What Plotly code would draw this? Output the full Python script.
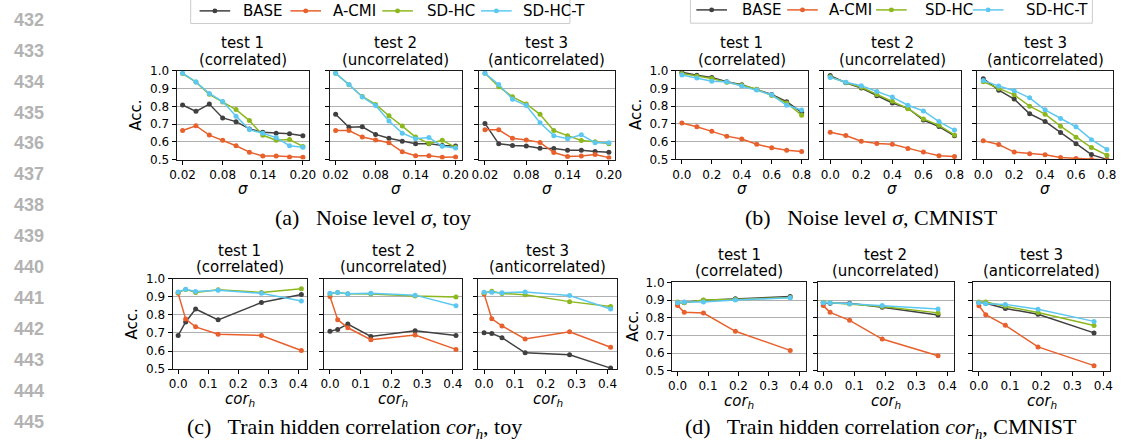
import plotly.graph_objects as go

W, H = 1127, 448

methods = ["BASE", "A-CMI", "SD-HC", "SD-HC-T"]
colors = ["#404040", "#e8602c", "#8cb81e", "#5cc8f2"]

# x values
sigma_toy = [0.02, 0.04, 0.06, 0.08, 0.10, 0.12, 0.14, 0.16, 0.18, 0.20]
sigma_cmnist = [0.0, 0.1, 0.2, 0.3, 0.4, 0.5, 0.6, 0.7, 0.8]
corh_toy = [0.0, 0.025, 0.058, 0.133, 0.277, 0.41]
corh_cmnist = [0.0, 0.022, 0.085, 0.19, 0.37]

# (a) noise level, toy
a1_base = [0.808, 0.772, 0.813, 0.735, 0.714, 0.673, 0.654, 0.649, 0.645, 0.634]
a1_acmi = [0.664, 0.691, 0.638, 0.609, 0.578, 0.542, 0.520, 0.520, 0.515, 0.513]
a1_sdhc = [0.985, 0.937, 0.868, 0.825, 0.782, 0.720, 0.637, 0.609, 0.613, 0.574]
a1_sdhct = [0.987, 0.938, 0.873, 0.827, 0.745, 0.669, 0.648, 0.624, 0.578, 0.569]

a2_base = [0.756, 0.682, 0.685, 0.642, 0.620, 0.604, 0.590, 0.590, 0.580, 0.576]
a2_acmi = [0.664, 0.664, 0.627, 0.611, 0.595, 0.544, 0.522, 0.522, 0.513, 0.515]
a2_sdhc = [0.987, 0.922, 0.856, 0.811, 0.747, 0.689, 0.627, 0.591, 0.609, 0.569]
a2_sdhct = [0.987, 0.924, 0.853, 0.805, 0.718, 0.649, 0.618, 0.624, 0.575, 0.565]

a3_base = [0.704, 0.589, 0.580, 0.577, 0.564, 0.562, 0.553, 0.553, 0.546, 0.542]
a3_acmi = [0.668, 0.668, 0.620, 0.611, 0.597, 0.540, 0.518, 0.520, 0.529, 0.511]
a3_sdhc = [0.987, 0.911, 0.854, 0.814, 0.755, 0.664, 0.635, 0.608, 0.600, 0.589]
a3_sdhct = [0.987, 0.923, 0.841, 0.805, 0.708, 0.635, 0.617, 0.640, 0.595, 0.595]

# (b) noise level, CMNIST
b1_base = [0.991, 0.974, 0.962, 0.938, 0.920, 0.894, 0.866, 0.825, 0.765]
b1_acmi = [0.705, 0.684, 0.658, 0.631, 0.615, 0.585, 0.565, 0.551, 0.545]
b1_sdhc = [0.984, 0.969, 0.956, 0.934, 0.918, 0.895, 0.860, 0.818, 0.749]
b1_sdhct = [0.976, 0.958, 0.940, 0.937, 0.914, 0.891, 0.864, 0.805, 0.778]

b2_base = [0.972, 0.932, 0.902, 0.858, 0.818, 0.788, 0.722, 0.685, 0.633]
b2_acmi = [0.653, 0.635, 0.602, 0.589, 0.585, 0.561, 0.541, 0.521, 0.516]
b2_sdhc = [0.965, 0.933, 0.906, 0.866, 0.828, 0.786, 0.728, 0.692, 0.638]
b2_sdhct = [0.962, 0.935, 0.915, 0.882, 0.851, 0.805, 0.773, 0.713, 0.665]

b3_base = [0.955, 0.890, 0.840, 0.757, 0.714, 0.651, 0.588, 0.527, 0.500]
b3_acmi = [0.605, 0.584, 0.541, 0.532, 0.526, 0.510, 0.505, 0.500, 0.497]
b3_sdhc = [0.937, 0.900, 0.864, 0.800, 0.755, 0.687, 0.625, 0.567, 0.524]
b3_sdhct = [0.945, 0.913, 0.887, 0.847, 0.779, 0.731, 0.684, 0.611, 0.556]

# (c) train hidden correlation, toy
c1_base = [0.686, 0.761, 0.833, 0.773, 0.869, 0.913]
c1_acmi = [0.920, 0.777, 0.734, 0.693, 0.686, 0.603]
c1_sdhc = [0.925, 0.942, 0.925, 0.940, 0.925, 0.946]
c1_sdhct = [0.928, 0.943, 0.930, 0.937, 0.920, 0.878]

c2_base = [0.710, 0.720, 0.750, 0.681, 0.712, 0.686]
c2_acmi = [0.903, 0.774, 0.729, 0.663, 0.689, 0.609]
c2_sdhc = [0.918, 0.925, 0.918, 0.917, 0.905, 0.900]
c2_sdhct = [0.920, 0.925, 0.918, 0.920, 0.910, 0.851]

c3_base = [0.701, 0.697, 0.674, 0.590, 0.579, 0.505]
c3_acmi = [0.917, 0.779, 0.739, 0.667, 0.707, 0.621]
c3_sdhc = [0.923, 0.932, 0.919, 0.912, 0.874, 0.847]
c3_sdhct = [0.926, 0.926, 0.923, 0.928, 0.908, 0.833]

# (d) train hidden correlation, CMNIST
d1_base = [0.885, 0.887, 0.900, 0.908, 0.920]
d1_acmi = [0.869, 0.832, 0.827, 0.724, 0.616]
d1_sdhc = [0.890, 0.885, 0.901, 0.904, 0.915]
d1_sdhct = [0.885, 0.889, 0.890, 0.901, 0.913]

d2_base = [0.885, 0.882, 0.882, 0.860, 0.816]
d2_acmi = [0.869, 0.831, 0.786, 0.680, 0.586]
d2_sdhc = [0.888, 0.885, 0.878, 0.864, 0.828]
d2_sdhct = [0.885, 0.885, 0.880, 0.870, 0.850]

d3_base = [0.885, 0.882, 0.853, 0.820, 0.715]
d3_acmi = [0.868, 0.818, 0.758, 0.636, 0.530]
d3_sdhc = [0.890, 0.890, 0.865, 0.830, 0.757]
d3_sdhct = [0.885, 0.880, 0.876, 0.849, 0.780]

y_ticks = [0.5, 0.6, 0.7, 0.8, 0.9, 1.0]
y_ticktext = ["0.5", "0.6", "0.7", "0.8", "0.9", "1.0"]
toy_sigma_ticks = [0.02, 0.08, 0.14, 0.20]
toy_sigma_ticktext = ["0.02", "0.08", "0.14", "0.20"]
cm_sigma_ticks = [0.0, 0.2, 0.4, 0.6, 0.8]
cm_sigma_ticktext = ["0.0", "0.2", "0.4", "0.6", "0.8"]
cor_ticks = [0.0, 0.1, 0.2, 0.3, 0.4]
cor_ticktext = ["0.0", "0.1", "0.2", "0.3", "0.4"]

panel_titles = ["(correlated)", "(uncorrelated)", "(anticorrelated)"]
captions = [
    "(a)\u2002 Noise level <i>\u03c3</i>, toy",
    "(b)\u2002 Noise level <i>\u03c3</i>, CMNIST",
    "(c)\u2002 Train hidden correlation <i>cor<sub>h</sub></i>, toy",
    "(d)\u2002 Train hidden correlation <i>cor<sub>h</sub></i>, CMNIST",
]

# ---------------- layout geometry (pixels) ----------------
def px(x):
    return x / W


def py(y):
    return 1 - y / H


FONT = "DejaVu Sans"
SERIF = "Liberation Serif"

groups = [
    dict(boxes=[(171.7, 305.7), (326.7, 460.3), (477.7, 615.7)], top=66.0, bottom=157.5,
         x=sigma_toy, rng=[0.011, 0.209], tv=toy_sigma_ticks, tt=toy_sigma_ticktext,
         data=[[a1_base, a1_acmi, a1_sdhc, a1_sdhct],
               [a2_base, a2_acmi, a2_sdhc, a2_sdhct],
               [a3_base, a3_acmi, a3_sdhc, a3_sdhct]],
         xlabel="\u03c3", t1y=37, t2y=55, xly=188, accx=131, capx=371, capy=217, cap=captions[0]),
    dict(boxes=[(677.3, 810.7), (827.3, 965.7), (982.3, 1120.0)], top=65.7, bottom=157.3,
         x=sigma_cmnist, rng=[-0.04, 0.84], tv=cm_sigma_ticks, tt=cm_sigma_ticktext,
         data=[[b1_base, b1_acmi, b1_sdhc, b1_sdhct],
               [b2_base, b2_acmi, b2_sdhc, b2_sdhct],
               [b3_base, b3_acmi, b3_sdhc, b3_sdhct]],
         xlabel="\u03c3", t1y=37, t2y=55, xly=188, accx=637, capx=875, capy=217, cap=captions[1]),
    dict(boxes=[(167.7, 304.0), (321.3, 460.7), (477.3, 617.3)], top=280.7, bottom=373.7,
         x=corh_toy, rng=[-0.0185, 0.4295], tv=cor_ticks, tt=cor_ticktext,
         data=[[c1_base, c1_acmi, c1_sdhc, c1_sdhct],
               [c2_base, c2_acmi, c2_sdhc, c2_sdhct],
               [c3_base, c3_acmi, c3_sdhc, c3_sdhct]],
         xlabel="cor<sub>h</sub>", t1y=252, t2y=268, xly=405, accx=127, capx=352, capy=435, cap=captions[2]),
    dict(boxes=[(673.3, 809.3), (820.7, 959.3), (978.3, 1117.3)], top=284.3, bottom=375.7,
         x=corh_cmnist, rng=[-0.0185, 0.4227], tv=cor_ticks, tt=cor_ticktext,
         data=[[d1_base, d1_acmi, d1_sdhc, d1_sdhct],
               [d2_base, d2_acmi, d2_sdhc, d2_sdhct],
               [d3_base, d3_acmi, d3_sdhc, d3_sdhct]],
         xlabel="cor<sub>h</sub>", t1y=256, t2y=272, xly=407, accx=634, capx=885, capy=435, cap=captions[3]),
]

fig = go.Figure()
layout = dict(width=W, height=H, margin=dict(l=0, r=0, t=0, b=0),
              plot_bgcolor="white", paper_bgcolor="white", showlegend=False)
annotations = []
shapes = []

k = 0
for g in groups:
    for col, (x0, x1) in enumerate(g["boxes"]):
        k += 1
        sfx = "" if k == 1 else str(k)
        xa, ya = "xaxis" + sfx, "yaxis" + sfx
        layout[xa] = dict(domain=[px(x0), px(x1)], anchor="y" + sfx, range=g["rng"],
                          tickmode="array", tickvals=g["tv"], ticktext=g["tt"],
                          ticks="outside", ticklen=4, tickwidth=1, tickcolor="#000",
                          showline=True, mirror=True, linecolor="#1a1a1a", linewidth=1,
                          showgrid=False, zeroline=False,
                          tickfont=dict(family=FONT, size=12, color="#000"))
        layout[ya] = dict(domain=[py(g["bottom"]), py(g["top"])], anchor="x" + sfx,
                          range=[0.5, 1.0], tickmode="array", tickvals=y_ticks,
                          ticktext=y_ticktext, ticks="outside", ticklen=4, tickwidth=1,
                          tickcolor="#000", showline=True, mirror=True,
                          linecolor="#1a1a1a", linewidth=1, showgrid=True,
                          gridcolor="#b0b0b0", gridwidth=1, zeroline=False,
                          showticklabels=(col == 0),
                          tickfont=dict(family=FONT, size=12, color="#000"))
        for m, series in enumerate(g["data"][col]):
            fig.add_trace(go.Scatter(x=g["x"], y=series, xaxis="x" + sfx, yaxis="y" + sfx,
                                     mode="lines+markers", name=methods[m],
                                     line=dict(color=colors[m], width=1.5),
                                     marker=dict(color=colors[m], size=5)))
        cx = (x0 + x1) / 2
        annotations.append(dict(x=px(cx), y=py(g["t1y"]), xref="paper", yref="paper",
                                text="test %d" % (col + 1), showarrow=False,
                                xanchor="center", yanchor="middle",
                                font=dict(family=FONT, size=15, color="#000")))
        annotations.append(dict(x=px(cx), y=py(g["t2y"]), xref="paper", yref="paper",
                                text=panel_titles[col], showarrow=False,
                                xanchor="center", yanchor="middle",
                                font=dict(family=FONT, size=15, color="#000")))
        annotations.append(dict(x=px(cx), y=py(g["xly"]), xref="paper", yref="paper",
                                text=g["xlabel"], showarrow=False,
                                xanchor="center", yanchor="middle",
                                font=dict(family=FONT, size=15, color="#000", style="italic")))
    annotations.append(dict(x=px(g["accx"]), y=py((g["top"] + g["bottom"]) / 2),
                            xref="paper", yref="paper", text="Acc.", textangle=-90,
                            showarrow=False, xanchor="center", yanchor="middle",
                            font=dict(family=FONT, size=15, color="#000")))
    annotations.append(dict(x=px(g["capx"]), y=py(g["capy"]), xref="paper", yref="paper",
                            text=g["cap"], showarrow=False, xanchor="center",
                            yanchor="middle", font=dict(family=SERIF, size=22, color="#000")))

# legends (drawn manually, two copies)
legend_specs = [
    dict(box=(186, 570), bottom=17, ly=4, lines=[195, 287, 380, 480], texts=[237, 328, 423, 520]),
    dict(box=(692, 1099), bottom=16.7, ly=3, lines=[698, 790, 880, 978], texts=[742, 830, 928, 1030]),
]
for L in legend_specs:
    shapes.append(dict(type="rect", xref="paper", yref="paper",
                       x0=px(L["box"][0]), x1=px(L["box"][1]), y0=py(L["bottom"]), y1=py(-10),
                       line=dict(color="#cccccc", width=1), fillcolor="white", layer="above"))
    for m in range(4):
        lx = L["lines"][m]
        shapes.append(dict(type="line", xref="paper", yref="paper", x0=px(lx), x1=px(lx + 31),
                           y0=py(L["ly"]), y1=py(L["ly"]),
                           line=dict(color=colors[m], width=1.5), layer="above"))
        r = 2.5
        shapes.append(dict(type="circle", xref="paper", yref="paper",
                           x0=px(lx + 15.5 - r), x1=px(lx + 15.5 + r),
                           y0=py(L["ly"] + r), y1=py(L["ly"] - r),
                           line=dict(color=colors[m], width=0), fillcolor=colors[m], layer="above"))
        annotations.append(dict(x=px(L["texts"][m]), y=py(L["ly"]), xref="paper", yref="paper",
                                text=methods[m], showarrow=False, xanchor="left",
                                yanchor="middle", font=dict(family=FONT, size=15, color="#000")))

# line numbers on the left margin
for i in range(14):
    annotations.append(dict(x=px(5), y=py(13.3 + i * 31.9), xref="paper", yref="paper",
                            text=str(432 + i), showarrow=False, xanchor="left",
                            yanchor="middle",
                            font=dict(family="Liberation Sans", size=18, color="#b3b3b3",
                                      weight="bold")))

layout["annotations"] = annotations
layout["shapes"] = shapes
fig.update_layout(**layout)
fig.write_html("out.html")
